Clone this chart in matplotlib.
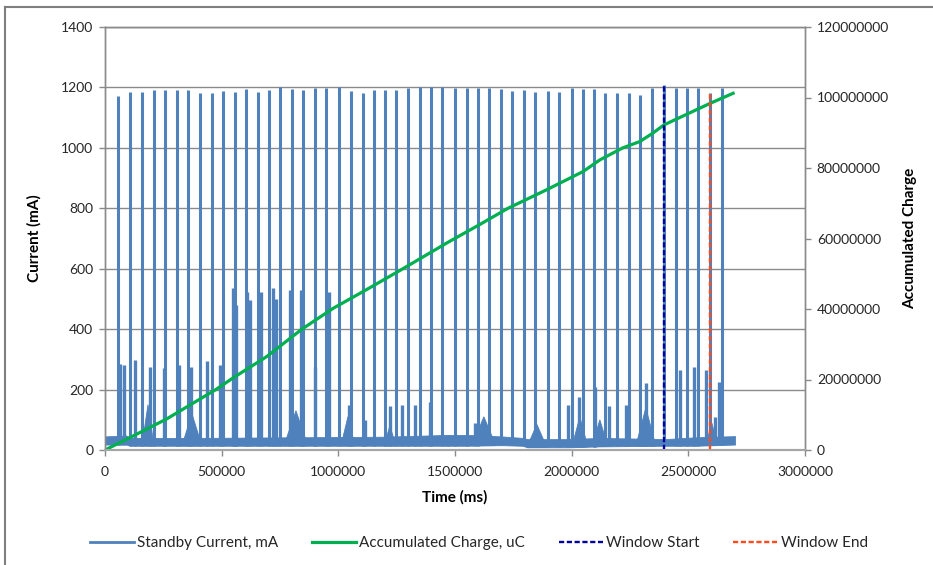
import matplotlib
matplotlib.use("Agg")
import matplotlib.pyplot as plt
from matplotlib.lines import Line2D
from matplotlib.ticker import FuncFormatter, MultipleLocator
import numpy as np

plt.rcParams['font.family'] = ['Lato', 'DejaVu Sans']

# Periodic wake-up spikes: time (ms) and peak current (mA)
spike_time_ms = [54400, 107100, 159800, 211200, 258400, 308500, 356900, 407000, 457200, 506900,
                 555700, 602800, 654200, 704000, 751100, 799900, 849600, 899700, 948200, 1001300,
                 1052700, 1104100, 1152500, 1200900, 1248100, 1299500, 1349600, 1398000, 1445200, 1500900,
                 1549700, 1599400, 1645300, 1696700, 1745100, 1793900, 1842300, 1896800, 1946500, 1999600,
                 2046700, 2093900, 2142300, 2193600, 2243800, 2292200, 2343600, 2395000, 2445200, 2493500,
                 2542000, 2592000, 2642200]
spike_peak_ma = [1173, 1185, 1186, 1193, 1193, 1193, 1193, 1183, 1183, 1188,
                 1185, 1196, 1185, 1193, 1201, 1196, 1193, 1199, 1198, 1201,
                 1188, 1183, 1193, 1191, 1191, 1197, 1200, 1200, 1200, 1197,
                 1197, 1197, 1197, 1194, 1188, 1192, 1186, 1188, 1186, 1197,
                 1194, 1194, 1183, 1180, 1180, 1176, 1197, 1208, 1197, 1197,
                 1197, 1183, 1197]

# Shorter activity bursts between wake-ups
burst_time_ms = [64300, 83500, 128500, 192800, 252800, 317000, 368500, 437000, 492700,
                 548400, 561300, 608400, 621300, 668400, 719800, 732700, 792700, 839800,
                 901900, 961900, 1045400, 1114000, 1221100, 1274700, 1330400, 1392500,
                 1469600, 1585300, 1985900, 2030900, 2099400, 2159400, 2232200, 2317900,
                 2463600, 2525600, 2577000, 2613500, 2632800]
burst_peak_ma = [285, 280, 298, 275, 272, 281, 275, 295, 281,
                 536, 480, 523, 495, 523, 536, 500, 530, 530,
                 275, 523, 149, 100, 146, 150, 148, 160,
                 50, 90, 149, 175, 209, 146, 149, 222,
                 265, 276, 265, 110, 226]

# Broad humps of raised current
hump_center_ms = [184200, 372700, 818400, 1041100, 1221100, 1623800, 1850900, 2035100, 2120800,
                  2317900, 2600600]
hump_peak_ma = [150, 120, 130, 110, 80, 110, 85, 110, 100, 140, 90]
hump_halfwidth_ms = [25700, 42800, 51400, 30000, 25700, 51400, 42800, 34300, 34300, 42800, 25700]

# Envelope of the idle current floor
floor_time_ms = [0, 90000, 110000, 400000, 800000, 1200000, 1470000, 1550000, 1700000,
                 1790000, 1810000, 1990000, 2120000, 2400000, 2530000, 2700000]
floor_low_ma = [18, 18, 14, 14, 14, 14, 14, 14, 16, 14, 9, 9, 12, 14, 14, 18]
floor_high_ma = [45, 48, 40, 40, 42, 44, 50, 50, 45, 40, 36, 36, 40, 36, 42, 46]

# Accumulated charge (uC)
charge_time_ms = [0, 121000, 264000, 475000, 550000, 693000, 844000, 978000, 1121000, 1277000,
                  1464000, 1607000, 1727000, 1892000, 2049000, 2121000, 2219000, 2292000,
                  2348000, 2395000, 2592000, 2692000]
charge_uc = [0, 4000000, 8800000, 17140000, 20500000, 26500000, 34290000, 40200000, 45500000,
             51430000, 58700000, 64000000, 68570000, 73800000, 79000000, 82300000, 85710000,
             87500000, 89900000, 92200000, 98300000, 101200000]

# Analysis window markers (ms) and their heights (mA)
window_start_ms = 2395000
window_end_ms = 2592000
window_start_top_ma = 1208
window_end_top_ma = 1183

BLUE = '#4F81BD'
GREEN = '#00B050'
NAVY = '#00009C'
ORANGE = '#FF4A1C'
GRID = '#8A8A8A'

fig = plt.figure(figsize=(9.33, 5.65), dpi=100)
ax = fig.add_axes([105 / 933, 1 - 450 / 565, 700 / 933, 423 / 565])
ax2 = ax.twinx()

# idle floor
ax.fill_between(floor_time_ms, floor_low_ma, floor_high_ma, color=BLUE, lw=0.6, edgecolor=BLUE)

# broad humps sitting on the floor
for c, p, hw in zip(hump_center_ms, hump_peak_ma, hump_halfwidth_ms):
    base = float(np.interp(c, floor_time_ms, floor_low_ma))
    ax.fill([c - hw, c, c + hw], [base, p, base], color=BLUE, lw=0.6, edgecolor=BLUE)

# short bursts
burst_base = np.interp(burst_time_ms, floor_time_ms, floor_low_ma)
ax.vlines(burst_time_ms, burst_base, burst_peak_ma, color=BLUE, lw=2.4)

# wake-up spikes
spike_base = np.interp(spike_time_ms, floor_time_ms, floor_low_ma)
ax.vlines(spike_time_ms, spike_base, spike_peak_ma, color=BLUE, lw=2.2)

# accumulated charge on the secondary axis
ax2.plot(charge_time_ms, charge_uc, color=GREEN, lw=2.3, solid_joinstyle='round')

# window markers drawn above the charge line, in current units
ax2.plot([window_start_ms, window_start_ms], [0, window_start_top_ma], transform=ax.transData,
         color=NAVY, lw=1.7, dashes=(2.2, 1.1))
ax2.plot([window_end_ms, window_end_ms], [0, window_end_top_ma], transform=ax.transData,
         color=ORANGE, lw=1.7, dashes=(2.2, 1.1))

# axes limits and ticks
ax.set_xlim(0, 3000000)
ax.set_ylim(0, 1400)
ax2.set_ylim(0, 120000000)
ax.xaxis.set_major_locator(MultipleLocator(500000))
ax.yaxis.set_major_locator(MultipleLocator(200))
ax2.yaxis.set_major_locator(MultipleLocator(20000000))
plain = FuncFormatter(lambda v, _: f"{int(round(v))}")
ax.xaxis.set_major_formatter(plain)
ax.yaxis.set_major_formatter(plain)
ax2.yaxis.set_major_formatter(plain)

ax.yaxis.grid(True, color=GRID, lw=1.0)
ax.set_axisbelow(True)

for a in (ax, ax2):
    a.spines['top'].set_color(GRID)
    a.spines['top'].set_linewidth(1.0)
    a.spines['left'].set_color(GRID)
    a.spines['right'].set_color(GRID)
    a.spines['bottom'].set_color('#A6A6A6')
    a.spines['bottom'].set_linewidth(1.5)
    a.spines['left'].set_linewidth(1.0)
    a.spines['right'].set_linewidth(1.0)

ax.tick_params(axis='both', direction='out', length=4.5, width=1.0, color=GRID,
               labelsize=10, labelcolor='#262626', pad=4)
ax.tick_params(axis='x', pad=7)
ax2.tick_params(axis='y', direction='out', length=4.5, width=1.0, color=GRID,
                labelsize=10, labelcolor='#262626', pad=4)

ax.set_xlabel('Time (ms)', fontsize=11, fontweight='bold', labelpad=9, color='#000000')
ax.set_ylabel('Current (mA)', fontsize=11, fontweight='bold', labelpad=14, color='#000000')
ax2.set_ylabel('Accumulated Charge', fontsize=11, fontweight='bold', labelpad=10, color='#000000')

handles = [
    Line2D([], [], color=BLUE, lw=2.0),
    Line2D([], [], color=GREEN, lw=2.3),
    Line2D([], [], color=NAVY, lw=1.7, dashes=(2.2, 1.1)),
    Line2D([], [], color=ORANGE, lw=1.7, dashes=(2.2, 1.1)),
]
labels = ['Standby Current, mA', 'Accumulated Charge, uC', 'Window Start', 'Window End']
fig.legend(handles, labels, loc='center', bbox_to_anchor=(0.513, 1 - 543 / 565), ncol=4,
           frameon=False, fontsize=11, handlelength=2.9, handletextpad=0.2,
           columnspacing=2.2, labelcolor='#262626')

# outer chart frame
fig.add_artist(Line2D([5 / 933, 1.0], [1 - 7 / 565, 1 - 7 / 565], transform=fig.transFigure,
                      color='#7F7F7F', lw=1.5))
fig.add_artist(Line2D([5 / 933, 5 / 933], [0.0, 1 - 7 / 565], transform=fig.transFigure,
                      color='#7F7F7F', lw=1.5))

fig.savefig('out.png', dpi=100)
